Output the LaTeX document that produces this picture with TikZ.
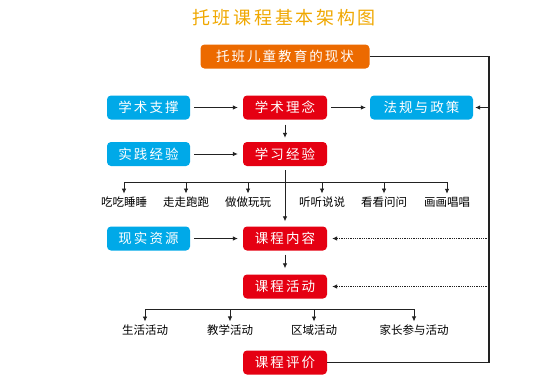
\documentclass[tikz,border=0pt]{standalone}
\usepackage{fontspec}
\setmainfont{Noto Sans CJK SC}
\newfontfamily\spacedfont[LetterSpace=15]{Noto Sans CJK SC}
\usetikzlibrary{arrows.meta}
\definecolor{titlegold}{HTML}{F0A800}
\definecolor{boxorange}{HTML}{EC6A00}
\definecolor{boxred}{HTML}{E50012}
\definecolor{boxblue}{HTML}{00A9E8}
\definecolor{linegray}{HTML}{222222}
\begin{document}
\begin{tikzpicture}[x=1pt,y=-1pt,
 box/.style={rounded corners=4pt,text=white,minimum height=24pt,inner sep=2pt,font=\spacedfont\fontsize{13.5}{15}\selectfont},
 redbox/.style={box,fill=boxred,minimum width=84pt},
 bluebox/.style={box,fill=boxblue,minimum width=83pt},
 item/.style={inner sep=1pt,font=\fontsize{11.5}{13}\selectfont},
 arr/.style={-{Latex[length=5pt,width=4.5pt]},line width=0.8pt,draw=linegray},
 loopline/.style={line width=1.3pt,draw=linegray}]
\useasboundingbox[fill=white] (0,0) rectangle (556,384);
\node[text=titlegold,font=\spacedfont\fontsize{18}{20}\selectfont] (title) at (284,18) {托班课程基本架构图};

\node[box,fill=boxorange,minimum width=169pt] (situation) at (285,56.5) {托班儿童教育的现状};
\node[bluebox] (support) at (148.5,107.5) {学术支撑};
\node[redbox] (idea) at (285,107.5) {学术理念};
\node[bluebox,minimum width=103pt] (policy) at (421.5,107.5) {法规与政策};
\node[bluebox] (practice) at (148.5,154) {实践经验};
\node[redbox] (experience) at (285,154) {学习经验};
\node[bluebox] (resource) at (148.5,238.5) {现实资源};
\node[redbox] (content) at (285,238.5) {课程内容};
\node[redbox] (activity) at (285,286.5) {课程活动};
\node[redbox] (evaluation) at (285,362.5) {课程评价};

% daily experiences
\node[item] (eat) at (124,202) {吃吃睡睡};
\node[item] (run) at (186,202) {走走跑跑};
\node[item] (play) at (248,202) {做做玩玩};
\node[item] (listen) at (322,202) {听听说说};
\node[item] (look) at (384,202) {看看问问};
\node[item] (sing) at (447,202) {画画唱唱};

% activity kinds
\node[item] (life) at (145,330) {生活活动};
\node[item] (teach) at (230,330) {教学活动};
\node[item] (area) at (314,330) {区域活动};
\node[item] (family) at (414,330) {家长参与活动};

\coordinate (fork1) at (285,182);
\coordinate (fork2) at (285,309);
\coordinate (loop) at (489,56.5);

\draw[arr,shorten <=4pt,shorten >=5pt] (support) -- (idea);
\draw[arr,shorten <=4pt,shorten >=4pt] (idea) -- (policy);
\draw[arr,shorten <=4pt,shorten >=5pt] (practice) -- (experience);
\draw[arr,shorten <=4pt,shorten >=5pt] (resource) -- (content);
\draw[arr,shorten <=5pt,shorten >=4pt] (idea) -- (experience);
\draw[arr,shorten <=4pt,shorten >=5pt] (experience) -- (content);
\draw[arr,shorten <=4pt,shorten >=6pt] (content) -- (activity);

\draw[line width=0.8pt,draw=linegray] (fork1 -| eat) -- (fork1 -| sing);
\foreach \n in {eat,run,play,listen,look,sing}
  \draw[arr,shorten >=2pt] (fork1 -| \n) -- (\n);
\draw[line width=0.8pt,draw=linegray] (fork2 -| life) -- (fork2 -| family);
\foreach \n in {life,teach,area,family}
  \draw[arr,shorten >=2pt] (fork2 -| \n) -- (\n);

\draw[loopline] (situation.east) -- (loop) -- (evaluation.east -| loop) -- (evaluation.east);
\draw[arr,shorten >=2pt] (policy.east -| loop) -- (policy);
\draw[arr,densely dotted,shorten >=5pt] (content.east -| loop) -- (content);
\draw[arr,densely dotted,shorten >=5pt] (activity.east -| loop) -- (activity);
\end{tikzpicture}
\end{document}
